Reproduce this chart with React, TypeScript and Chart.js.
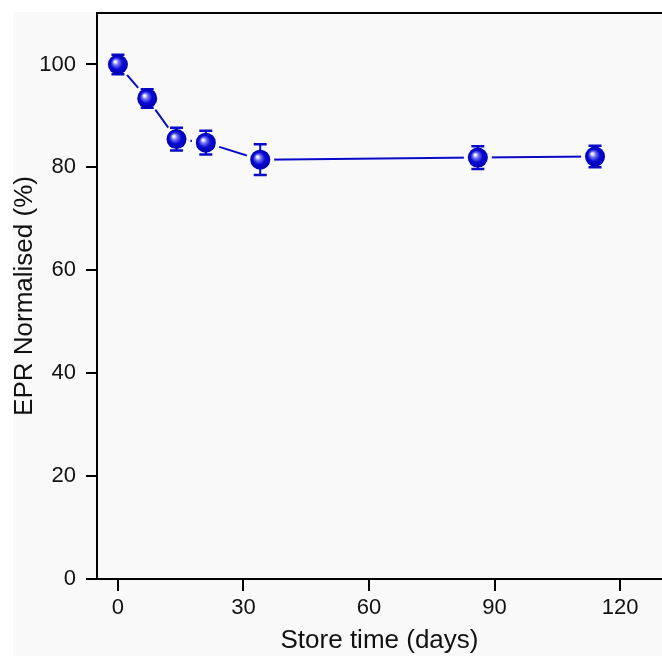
import { useEffect, useRef } from "react";
import { Chart, registerables } from "chart.js";

Chart.register(...registerables);

// Store time in days and normalised EPR signal (%) with its error
const storeDays = [0, 7, 14, 21, 34, 86, 114];
const eprNormalised = [100, 93.4, 85.5, 84.8, 81.5, 81.9, 82.1];
const eprError = [1.9, 1.8, 2.2, 2.3, 3.0, 2.2, 2.1];

const xTicks = [0, 30, 60, 90, 120];
const yTicks = [0, 20, 40, 60, 80, 100];

const BLUE = "#0a0ac8";
const PANEL = "#f9f9f9";
const INK = "#111111";
const FONT = "'Liberation Sans', Arial, Helvetica, sans-serif";

const MARKER_R = 10;
const HALO_R = 14;
const CAP_HALF = 6.5;

const backdrop = {
  id: "backdrop",
  beforeDraw(chart: any) {
    const { ctx, width, height } = chart;
    ctx.save();
    ctx.fillStyle = "#ffffff";
    ctx.fillRect(0, 0, width, height);
    ctx.fillStyle = PANEL;
    ctx.fillRect(13, 12, width - 13, height - 12);
    ctx.restore();
  },
  afterDraw(chart: any) {
    // top frame line
    const { ctx, chartArea } = chart;
    ctx.save();
    ctx.strokeStyle = "#000";
    ctx.lineWidth = 2;
    ctx.beginPath();
    ctx.moveTo(chartArea.left - 1, chartArea.top);
    ctx.lineTo(chartArea.right, chartArea.top);
    ctx.stroke();
    ctx.restore();
  },
};

// spheres with error bars, drawn over the connecting line with a small gap
const sphereMarkers = {
  id: "sphereMarkers",
  afterDatasetsDraw(chart: any) {
    const { ctx } = chart;
    const meta = chart.getDatasetMeta(0);
    const yScale = chart.scales.y;
    const pts = meta.data as any[];
    ctx.save();
    // gap around each marker
    ctx.fillStyle = PANEL;
    pts.forEach((p) => {
      ctx.beginPath();
      ctx.arc(p.x, p.y, HALO_R, 0, Math.PI * 2);
      ctx.fill();
    });
    // error bars
    ctx.strokeStyle = BLUE;
    ctx.lineWidth = 2;
    pts.forEach((p, i) => {
      const yTop = yScale.getPixelForValue(eprNormalised[i] + eprError[i]);
      const yBot = yScale.getPixelForValue(eprNormalised[i] - eprError[i]);
      ctx.beginPath();
      ctx.moveTo(p.x, yTop);
      ctx.lineTo(p.x, yBot);
      ctx.stroke();
      ctx.lineWidth = 2.5;
      ctx.beginPath();
      ctx.moveTo(p.x - CAP_HALF, yTop);
      ctx.lineTo(p.x + CAP_HALF, yTop);
      ctx.moveTo(p.x - CAP_HALF, yBot);
      ctx.lineTo(p.x + CAP_HALF, yBot);
      ctx.stroke();
      ctx.lineWidth = 2;
    });
    // shaded spheres
    pts.forEach((p) => {
      const g = ctx.createRadialGradient(p.x - 3, p.y - 3, 0, p.x, p.y, MARKER_R);
      g.addColorStop(0, "#ffffff");
      g.addColorStop(0.1, "#eeeeff");
      g.addColorStop(0.3, "#7070f4");
      g.addColorStop(0.6, "#0a0ad4");
      g.addColorStop(1, "#0000b0");
      ctx.fillStyle = g;
      ctx.beginPath();
      ctx.arc(p.x, p.y, MARKER_R, 0, Math.PI * 2);
      ctx.fill();
    });
    ctx.restore();
  },
};

export default function App() {
  const canvasRef = useRef<HTMLCanvasElement | null>(null);

  useEffect(() => {
    const canvas = canvasRef.current;
    if (!canvas) return;
    Chart.defaults.font.family = FONT;

    const chart = new Chart(canvas, {
      type: "line",
      data: {
        datasets: [
          {
            data: storeDays.map((d, i) => ({ x: d, y: eprNormalised[i] })),
            borderColor: BLUE,
            borderWidth: 2,
            pointRadius: 0,
            pointHoverRadius: 0,
            tension: 0,
            fill: false,
          },
        ],
      },
      options: {
        responsive: false,
        animation: false,
        events: [],
        layout: { padding: { top: 13, left: 0, right: 0, bottom: 0 } },
        plugins: {
          legend: { display: false },
          tooltip: { enabled: false },
        },
        scales: {
          x: {
            type: "linear",
            min: -5,
            max: 130,
            afterBuildTicks: (s: any) => {
              s.ticks = xTicks.map((v) => ({ value: v }));
            },
            afterFit: (s: any) => {
              s.height = 77;
              s.paddingLeft = 0;
              s.paddingRight = 0;
            },
            grid: {
              display: true,
              drawOnChartArea: false,
              drawTicks: true,
              tickLength: 12,
              color: "#000",
              lineWidth: 2,
            },
            border: { display: true, color: "#000", width: 2 },
            ticks: {
              color: INK,
              font: { size: 22 },
              padding: 4,
              maxRotation: 0,
              autoSkip: false,
            },
            title: {
              display: true,
              text: "Store time (days)",
              color: INK,
              font: { size: 26 },
              padding: { top: 0, bottom: 0 },
            },
          },
          y: {
            type: "linear",
            min: 0,
            max: 110,
            afterBuildTicks: (s: any) => {
              s.ticks = yTicks.map((v) => ({ value: v }));
            },
            afterFit: (s: any) => {
              s.width = 97;
              s.paddingTop = 0;
              s.paddingBottom = 0;
            },
            grid: {
              display: true,
              drawOnChartArea: false,
              drawTicks: true,
              tickLength: 11,
              color: "#000",
              lineWidth: 2,
            },
            border: { display: true, color: "#000", width: 2 },
            ticks: {
              color: INK,
              font: { size: 22 },
              padding: 10,
              autoSkip: false,
            },
            title: {
              display: true,
              text: "EPR Normalised (%)",
              color: INK,
              font: { size: 26 },
              padding: { top: 9, bottom: 0 },
            },
          },
        },
      },
      plugins: [backdrop, sphereMarkers],
    });

    return () => chart.destroy();
  }, []);

  return (
    <div style={{ position: "absolute", left: 0, top: 0, width: 662, height: 656 }}>
      <canvas ref={canvasRef} width={662} height={656} style={{ display: "block" }} />
    </div>
  );
}
